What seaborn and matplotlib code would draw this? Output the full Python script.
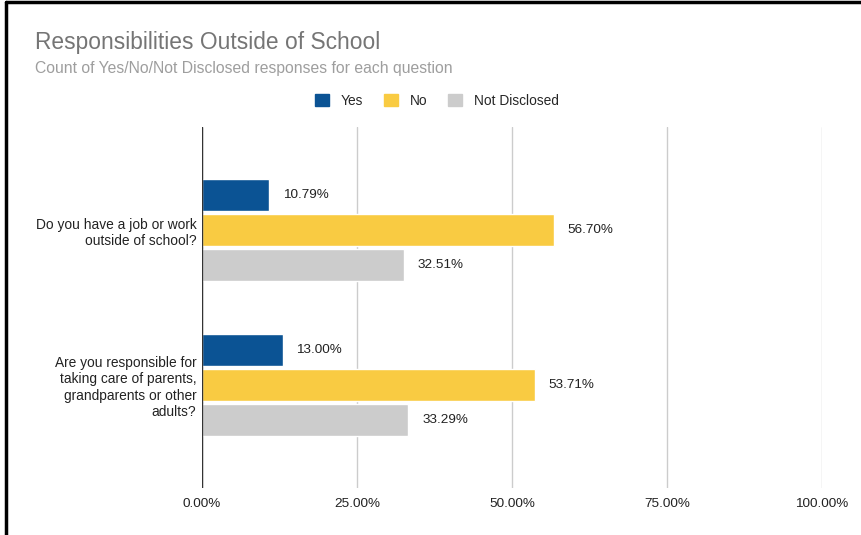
import numpy as np
import pandas as pd
import matplotlib.pyplot as plt
import seaborn as sns
from matplotlib.lines import Line2D
from matplotlib.ticker import FuncFormatter

questions = ['Do you have a job or work\noutside of school?',
             'Are you responsible for\ntaking care of parents,\ngrandparents or other\nadults?']
answers = ['Yes', 'No', 'Not Disclosed']
yes_pct = [10.79, 13.00]
no_pct = [56.70, 53.71]
nd_pct = [32.51, 33.29]
colors = ['#0B5394', '#F9CB42', '#CCCCCC']
xticks = [0, 25, 50, 75, 100]

sns.set_theme(style='white')
plt.rcParams['font.family'] = ['Liberation Sans', 'DejaVu Sans']

df = pd.DataFrame({'question': questions * 3,
                   'answer': np.repeat(answers, 2),
                   'pct': yes_pct + no_pct + nd_pct})

#Setup figure and axes:
fig = plt.figure(figsize=(8.61, 5.35), dpi=100)
ax = fig.add_axes([0.2346, 0.0879, 0.7201, 0.6747])

sns.barplot(data=df, y='question', x='pct', hue='answer', order=questions,
            hue_order=answers, palette=colors, width=0.68, gap=0.08,
            orient='h', ax=ax, legend=False, saturation=1)

#Value labels:
for cont in ax.containers:
    ax.bar_label(cont, labels=[f'{v:.2f}%' for v in cont.datavalues],
                 padding=10, fontsize=9.7, color='#222222')

#Grid and axes:
ax.set_xlim(0, 100)
ax.set_ylim(1.665, -0.665)
ax.set_xticks(xticks)
ax.xaxis.set_major_formatter(FuncFormatter(lambda v, p: f'{v:.2f}%'))
ax.grid(axis='x', color='#cccccc', lw=1)
ax.set_axisbelow(True)
for s in ax.spines.values():
    s.set_visible(False)
ax.axvline(0, color='#333333', lw=1, zorder=3)
ax.tick_params(axis='x', length=0, labelsize=9.7, pad=7, colors='#222222')
ax.tick_params(axis='y', length=0, labelsize=9.9, pad=4, colors='#222222')
ax.set_xlabel('')
ax.set_ylabel('')
for t in ax.get_yticklabels():
    t.set_multialignment('right')

#Titles:
fig.text(35 / 861, 1 - 42 / 535, 'Responsibilities Outside of School',
         fontsize=16.4, color='#757575', va='center', ha='left')
fig.text(35 / 861, 1 - 69 / 535, 'Count of Yes/No/Not Disclosed responses for each question',
         fontsize=11.3, color='#9e9e9e', va='center', ha='left')

#Legend:
handles = [plt.Rectangle((0, 0), 1, 1, color=c) for c in colors]
fig.legend(handles, answers, loc='center', bbox_to_anchor=(437 / 861, 1 - 101 / 535),
           ncol=3, frameon=False, fontsize=9.9, handlelength=1.0, handleheight=1.0,
           columnspacing=1.5, handletextpad=0.9)

#Frame lines left and top:
fig.add_artist(Line2D([6 / 861, 6 / 861], [0, 1 - 2 / 535], color='black', lw=2.5))
fig.add_artist(Line2D([6 / 861, 1], [1 - 2 / 535, 1 - 2 / 535], color='black', lw=2.5))

fig.savefig('out.png', dpi=100)
